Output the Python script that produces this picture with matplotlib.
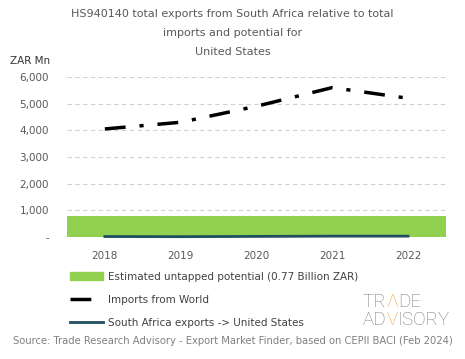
import numpy as np
import matplotlib
matplotlib.use("Agg")
import matplotlib.pyplot as plt
from matplotlib.lines import Line2D
from matplotlib.patches import Patch

years = ["2018", "2019", "2020", "2021", "2022"]
imports_world = [4050, 4300, 4900, 5600, 5200]
sa_exports = [15, 10, 20, 30, 30]
potential = [770, 770, 770, 770, 770]

title = "HS940140 total exports from South Africa relative to total\nimports and potential for\nUnited States"
source = "Source: Trade Research Advisory - Export Market Finder, based on CEPII BACI (Feb 2024)"

plt.rcParams['font.family'] = ['DejaVu Sans']
grey = "#595959"
green = "#92d050"
navy = "#1f4e5f"
orange = "#f4a234"

fig = plt.figure(figsize=(4.65, 3.59), dpi=100)
ax = fig.add_axes([0.144, 0.340, 0.815, 0.4457])

x = np.arange(len(years))
ax.bar(x, potential, width=1.0, color=green, zorder=2)
ax.plot(x, imports_world, color="black", lw=2.5, dashes=[6, 4, 1.2, 4], zorder=3)
ax.plot(x, sa_exports, color=navy, lw=2, zorder=4, clip_on=False)

ax.set_xlim(-0.5, 4.5)
ax.set_ylim(0, 6000)
ax.set_yticks(range(0, 7000, 1000))
ax.set_yticklabels(["-"] + [f"{v:,}" for v in range(1000, 7000, 1000)])
ax.set_xticks(x)
ax.set_xticklabels(years)
ax.tick_params(length=0, labelsize=7.5, colors=grey)
ax.tick_params(axis="y", pad=13)
ax.tick_params(axis="x", pad=10)
ax.yaxis.grid(True, color="#d0d0d0", ls=(0, (4, 3)), lw=0.8)
ax.set_axisbelow(True)
for s in ax.spines.values():
    s.set_visible(False)

fig.text(0.5, 0.975, title, ha="center", va="top", fontsize=8, color=grey,
         linespacing=2.15)
fig.text(0.022, 0.83, "ZAR Mn", fontsize=7.5, color="#333333", va="center")

handles = [Patch(color=green), Line2D([], [], color="black", lw=2.5, dashes=[6, 4, 1.2, 4]),
           Line2D([], [], color=navy, lw=2)]
labels = ["Estimated untapped potential (0.77 Billion ZAR)", "Imports from World",
          "South Africa exports -> United States"]
fig.legend(handles, labels, loc="upper left", bbox_to_anchor=(0.150, 0.243), frameon=False,
           fontsize=7.5, labelcolor="#404040", handlelength=3.2, handletextpad=0.45,
           labelspacing=1.25, borderaxespad=0, borderpad=0)

fig.text(0.5, 0.035, source, ha="center", va="bottom", fontsize=7.2, color="#808080")

# logo
fig.canvas.draw()
r = fig.canvas.get_renderer()
def logo_line(parts, x0, y0):
    xx = x0
    for txt, col in parts:
        t = fig.text(xx, y0, txt, fontsize=13.5, color=col, family="Roboto",
                     fontweight="light", va="baseline")
        bb = t.get_window_extent(r)
        xx += bb.width / fig.bbox.width
logo_line([("TR", "#7f7f7f"), ("Λ", orange), ("DE", "#7f7f7f")], 0.780, 0.146)
logo_line([("AD", "#7f7f7f"), ("V", orange), ("ISORY", "#7f7f7f")], 0.780, 0.094)

fig.savefig("out.png", dpi=100)
